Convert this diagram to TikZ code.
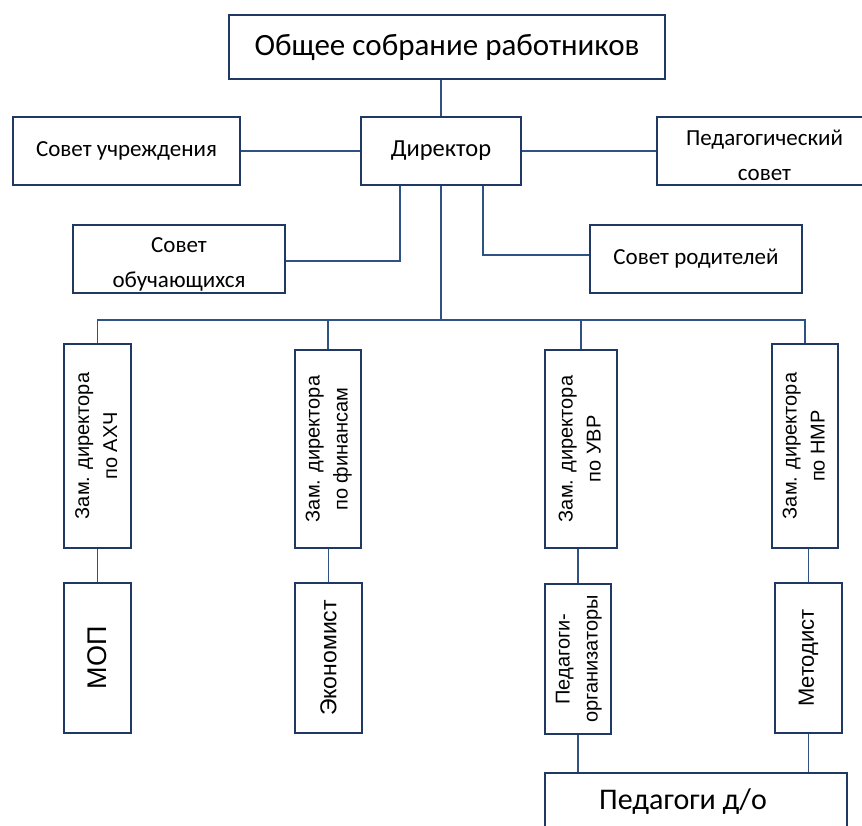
\documentclass[tikz,border=0pt]{standalone}
\usepackage{fontspec}
\setmainfont{Carlito}
\newfontfamily\arial{Liberation Sans}
\definecolor{boxcol}{HTML}{1F3864}
\definecolor{linecol}{HTML}{2E5283}
\begin{document}
\begin{tikzpicture}[x=1pt,y=-1pt,
  box/.style={draw=boxcol, line width=2.4pt, fill=white, inner sep=0pt, align=center, text=black},
  wire/.style={draw=linecol, line width=1.5pt},
  big/.style={font=\fontsize{31}{36}\selectfont},
  mid/.style={font=\fontsize{23}{35}\selectfont},
  vert/.style={font=\arial\fontsize{20}{28}\selectfont}]
\useasboundingbox (0,0) rectangle (862,825);
% boxes
\node[box, big, minimum width=436, minimum height=64] (top) at (447,47) {Общее собрание работников};
\node[box, font=\fontsize{24.5}{35}\selectfont, minimum width=160, minimum height=68] (dir) at (441,151) {Директор};
\node[box, mid, minimum width=227, minimum height=68] (su) at (126.5,151) {Совет учреждения};
\node[box, minimum width=212, minimum height=68,
  label={[name=so-t, mid, align=center, yshift=-5pt]center:Совет\\обучающихся}] (so) at (179,259) {};
\node[box, minimum width=215, minimum height=68,
  label={[name=ps-t, mid, align=center, yshift=-4pt]center:Педагогический\\совет}] (ps) at (764.5,151) {};
\node[box, mid, minimum width=212, minimum height=68] (sr) at (696,259) {Совет родителей};
\node[box, vert, minimum width=67, minimum height=204] (z1) at (97.5,446) {\rotatebox{90}{\begin{tabular}{@{}c@{}}Зам. директора\\по АХЧ\end{tabular}}};
\node[box, vert, minimum width=66, minimum height=198] (z2) at (328,449) {\rotatebox{90}{\begin{tabular}{@{}c@{}}Зам. директора\\по финансам\end{tabular}}};
\node[box, vert, minimum width=72, minimum height=198] (z3) at (581,449) {\rotatebox{90}{\begin{tabular}{@{}c@{}}Зам. директора\\по УВР\end{tabular}}};
\node[box, vert, minimum width=66, minimum height=204] (z4) at (805,446) {\rotatebox{90}{\begin{tabular}{@{}c@{}}Зам. директора\\по НМР\end{tabular}}};
\node[box, font=\arial\fontsize{27}{30}\selectfont, minimum width=67, minimum height=150] (b1) at (97.5,658) {\rotatebox{90}{МОП}};
\node[box, font=\arial\fontsize{23}{26}\selectfont, minimum width=67, minimum height=150] (b2) at (328.5,658) {\rotatebox{90}{Экономист}};
\node[box, vert, minimum width=66, minimum height=150] (b3) at (578,659) {\rotatebox{90}{\begin{tabular}{@{}c@{}}Педагоги-\\организаторы\end{tabular}}};
\node[box, font=\arial\fontsize{22}{26}\selectfont, minimum width=67, minimum height=150] (b4) at (808.5,658) {\rotatebox{90}{Методист}};
\node[box, font=\fontsize{30}{36}\selectfont, minimum width=302, minimum height=57] (pd) at (696,801.5) {\kern-26pt Педагоги д/о};
% connectors
\coordinate (bus) at (441,320);
\draw[wire] (dir.north) -- (dir.north |- top.south);
\draw[wire] (su.east) -- (su.east -| dir.west);
\draw[wire] (dir.east) -- (dir.east -| ps.west);
\draw[wire] ([xshift=40pt]dir.south west) |- ([yshift=-2pt]so.east);
\draw[wire] ([xshift=123pt]dir.south west) |- ([yshift=4pt]sr.west);
\draw[wire] (dir.south) -- (bus);
\draw[wire] (z1.north) -- (z1.north |- bus) -- (z4.north |- bus) -- (z4.north);
\draw[wire] (z2.north) -- (z2.north |- bus);
\draw[wire] (z3.north) -- (z3.north |- bus);
\draw[wire] (z1.south) -- (b1.north);
\draw[wire] (b2.north) -- (b2.north |- z2.south);
\draw[wire] (b3.north) -- (b3.north |- z3.south);
\draw[wire] (b4.north) -- (b4.north |- z4.south);
\draw[wire] (b3.south) -- (b3.south |- pd.north);
\draw[wire] (b4.south) -- (b4.south |- pd.north);
\end{tikzpicture}
\end{document}
